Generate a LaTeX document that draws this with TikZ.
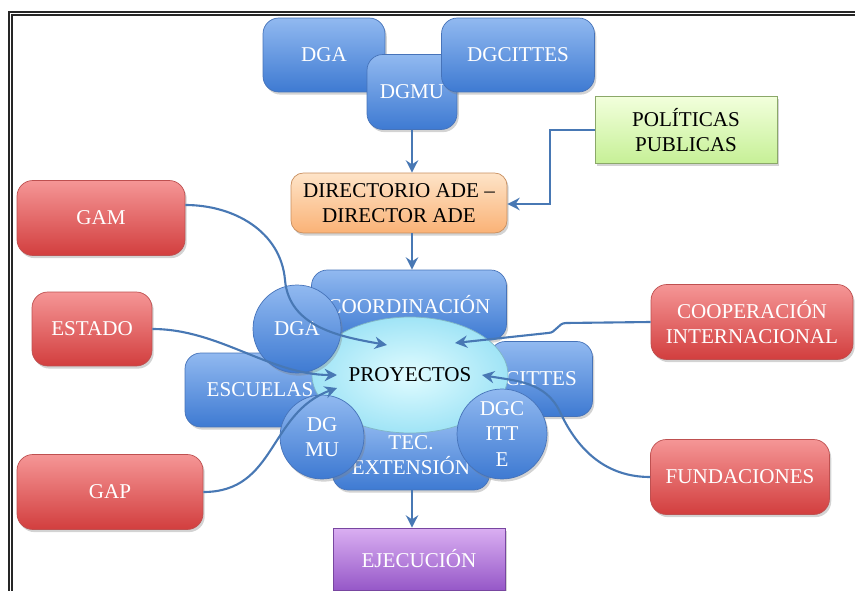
\documentclass[tikz,border=0pt]{standalone}
\usepackage{fontspec}
\setmainfont{Liberation Serif}
\usetikzlibrary{shapes.geometric,shadows,arrows.meta}

\definecolor{azulA}{RGB}{145,185,240}
\definecolor{azulB}{RGB}{62,122,210}
\definecolor{azulD}{RGB}{70,115,185}
\definecolor{rojoA}{RGB}{245,150,150}
\definecolor{rojoB}{RGB}{210,62,62}
\definecolor{rojoD}{RGB}{190,80,80}
\definecolor{verdeA}{RGB}{242,255,220}
\definecolor{verdeB}{RGB}{198,240,150}
\definecolor{naranjaA}{RGB}{254,228,200}
\definecolor{naranjaB}{RGB}{250,178,118}
\definecolor{moradoA}{RGB}{218,175,242}
\definecolor{moradoB}{RGB}{150,88,200}
\definecolor{cianA}{RGB}{225,252,255}
\definecolor{cianB}{RGB}{160,228,246}
\definecolor{flechaC}{RGB}{72,120,180}

\begin{document}
\begin{tikzpicture}[x=0.02cm, y=-0.02cm, >={Stealth[length=7pt,width=7pt]},
  caja/.style={rounded corners=9pt, line width=0.4pt, inner sep=0pt, align=center, text=white,
    font=\fontsize{12}{14.5}\selectfont,
    drop shadow={opacity=0.35, shadow xshift=1pt, shadow yshift=-1.5pt}},
  azul/.style={caja, top color=azulA, bottom color=azulB, draw=azulD},
  rojo/.style={caja, top color=rojoA, bottom color=rojoB, draw=rojoD},
  bola/.style={azul, circle},
  flecha/.style={->, draw=flechaC, line width=1.2pt}]
\useasboundingbox (0,0) rectangle (855,591);
% marco doble
\draw[double=white, double distance=1.1pt, line width=0.7pt, draw=black!85] (856,13.5) -- (10.5,13.5) -- (10.5,592);

% direcciones arriba
\node[azul, minimum width=2.44cm, minimum height=1.48cm] (dga) at (324,55) {DGA};
\node[azul, minimum width=1.8cm, minimum height=1.5cm] (dgmu) at (412,92) {DGMU};
\node[azul, minimum width=3.06cm, minimum height=1.48cm] (dgcittes) at (518,55) {DGCITTES};
\node[caja, rounded corners=0pt, top color=verdeA, bottom color=verdeB, draw=verdeB!70!black,
  text=black, minimum width=3.64cm, minimum height=1.34cm] (pol) at (686,130) {POLÍTICAS\\PUBLICAS};
\node[caja, rounded corners=7pt, top color=naranjaA, bottom color=naranjaB, draw=naranjaB!80!black,
  text=black, minimum width=4.32cm, minimum height=1.2cm] (dir) at (399,203) {DIRECTORIO ADE --\\DIRECTOR ADE};

% actores externos
\node[rojo, minimum width=3.36cm, minimum height=1.5cm] (gam) at (101,218) {GAM};
\node[rojo, minimum width=2.4cm, minimum height=1.48cm] (estado) at (92,329) {ESTADO};
\node[rojo, minimum width=3.72cm, minimum height=1.5cm] (gap) at (110,492) {GAP};
\node[rojo, minimum width=4.04cm, minimum height=1.5cm] (coop) at (752,322) {COOPERACIÓN\\INTERNACIONAL};
\node[rojo, minimum width=3.58cm, minimum height=1.5cm] (fund) at (740,477) {FUNDACIONES};

% bloque central
\node[azul, minimum width=3.9cm, minimum height=1.4cm] (coord) at (409,305) {COORDINACIÓN};
\node[azul, minimum width=3cm, minimum height=1.48cm] (esc) at (260,390) {ESCUELAS};
\node[azul, minimum width=2.06cm, minimum height=1.5cm] (cittes) at (541,379) {CITTES};
\node[azul, minimum width=3.14cm, minimum height=1.4cm] (tec) at (411,455) {TEC.\\EXTENSIÓN};
\node[ellipse, inner color=cianA, outer color=cianB, draw=cianB!80!black, line width=0.4pt,
  minimum width=3.92cm, minimum height=2.32cm, font=\fontsize{12}{14.5}\selectfont] (proy) at (410,375) {PROYECTOS};
\node[bola, minimum size=1.76cm] (cdga) at (297,329) {DGA};
\node[bola, minimum size=1.68cm] (cdgmu) at (322,437) {DG\\MU};
\node[bola, minimum size=1.8cm] (cdgc) at (502,434) {DGC\\ITT\\E};
\node[caja, rounded corners=0pt, top color=moradoA, bottom color=moradoB, draw=moradoB!80!black,
  minimum width=3.44cm, minimum height=1.24cm] (ejec) at (419,559) {EJECUCIÓN};

% llegadas en PROYECTOS
\coordinate (pgam) at (387,345);
\coordinate (pest) at (337,375);
\coordinate (pgap) at (337,388);
\coordinate (pcoop) at (455,343);
\coordinate (pfund) at (482,375);

\draw[flecha] (dgmu.south) -- (dgmu.south |- dir.north);
\draw[flecha] (dgmu.south |- dir.south) -- (dgmu.south |- coord.north);
\draw[flecha] (dgmu.south |- tec.south) -- (dgmu.south |- ejec.north);
\draw[flecha] (pol.west) -- (550,130) -- (550,204) -- (dir.east |- 0,204);
\draw[flecha] (gam.east |- 0,205) to[out=0,in=95] (285,280) to[out=-85,in=170] (pgam);
\draw[flecha] (estado.east) to[out=0,in=180,looseness=0.9] (pest);
\draw[flecha] (gap.east) to[out=0,in=200,looseness=1.1] (pgap);
\draw[flecha] (coop.west) -- (566,323) to[out=180,in=0] (548,333) -- (pcoop);
\draw[flecha] (fund.west) to[out=180,in=-65] (560,412) to[out=115,in=-10] (pfund);
\end{tikzpicture}
\end{document}
